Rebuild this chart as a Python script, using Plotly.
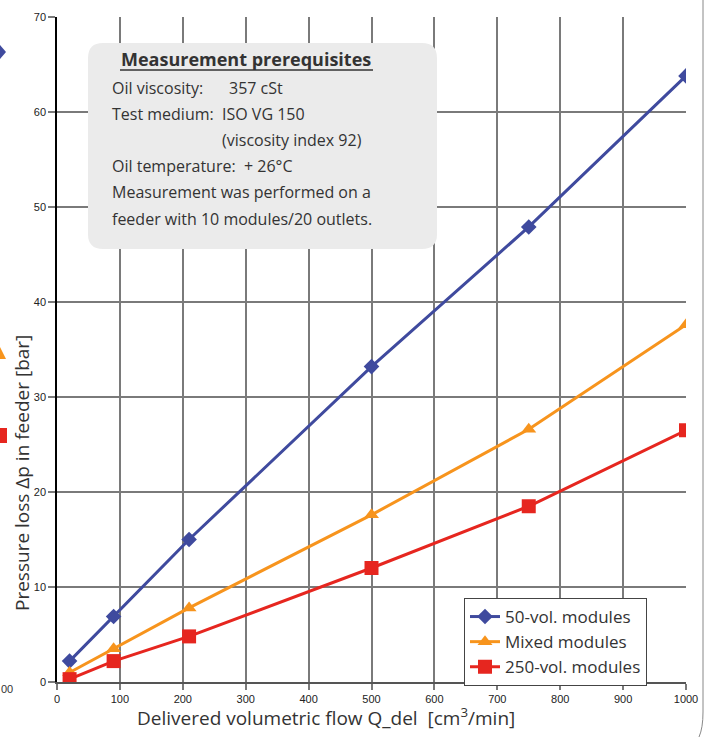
import plotly.graph_objects as go

# ---- data ----
flow = [20, 90, 210, 500, 750, 1000]
dp_50vol = [2.2, 6.9, 15.0, 33.2, 47.9, 63.8]
dp_mixed = [1.0, 3.5, 7.8, 17.6, 26.6, 37.6]
dp_250vol = [0.3, 2.2, 4.8, 12.0, 18.5, 26.5]
series_names = ["50-vol. modules", "Mixed modules", "250-vol. modules"]
x_ticks = [0, 100, 200, 300, 400, 500, 600, 700, 800, 900, 1000]
y_ticks = [0, 10, 20, 30, 40, 50, 60, 70]
box_lines = [
    ("Oil viscosity:", "357 cSt"),
    ("Test medium:", "ISO VG 150"),
    ("", "(viscosity index 92)"),
    ("Oil temperature:  + 26°C", ""),
    ("Measurement was performed on a", ""),
    ("feeder with 10 modules/20 outlets.", ""),
]

W, H = 707, 737
L, R, T, B = 57, 21, 17, 55
PW, PH = W - L - R, H - T - B

def px(xp):
    return (xp - L) / PW

def py(yp):
    return (H - B - yp) / PH

BLUE = "#3f4a9e"
ORANGE = "#f7941d"
RED = "#e6261f"
GRID = "#7a7a7a"
TXT = "#333333"
BOXFONT = "Open Sans"

fig = go.Figure()
fig.add_trace(go.Scatter(x=flow, y=dp_50vol, name=series_names[0], mode="lines+markers",
                         line=dict(color=BLUE, width=3),
                         marker=dict(symbol="diamond", size=12, color=BLUE)))
fig.add_trace(go.Scatter(x=flow, y=dp_mixed, name=series_names[1], mode="lines+markers",
                         line=dict(color=ORANGE, width=3),
                         marker=dict(symbol="triangle-up", size=13, color=ORANGE)))
fig.add_trace(go.Scatter(x=flow, y=dp_250vol, name=series_names[2], mode="lines+markers",
                         line=dict(color=RED, width=3),
                         marker=dict(symbol="square", size=14, color=RED)))

shapes = []
# rounded info box
x0, x1 = px(88), px(437)
y1, y0 = py(43), py(249)
rx, ry = 15 / PW, 15 / PH
path = (f"M {x0+rx},{y1} L {x1-rx},{y1} Q {x1},{y1} {x1},{y1-ry} "
        f"L {x1},{y0+ry} Q {x1},{y0} {x1-rx},{y0} L {x0+rx},{y0} "
        f"Q {x0},{y0} {x0},{y0+ry} L {x0},{y1-ry} Q {x0},{y1} {x0+rx},{y1} Z")
shapes.append(dict(type="path", xref="paper", yref="paper", path=path,
                   fillcolor="#ebebeb", line=dict(width=0), layer="above"))
# underline of box title
shapes.append(dict(type="line", xref="paper", yref="paper", x0=px(120), x1=px(373),
                   y0=py(70), y1=py(70), line=dict(color="#333333", width=1.5), layer="above"))
# right frame with rounded bottom corner
shapes.append(dict(type="path", xref="paper", yref="paper",
                   path=f"M {px(703)},{py(0)} L {px(703)},{py(712)} Q {px(703)},{py(728)} {px(699)},{py(737)}",
                   line=dict(color="#888888", width=1)))
# cropped neighbour markers on the left edge
shapes.append(dict(type="path", xref="paper", yref="paper",
                   path=f"M {px(-6)},{py(52)} L {px(0)},{py(45)} L {px(6)},{py(52)} L {px(0)},{py(59)} Z",
                   fillcolor=BLUE, line=dict(width=0)))
shapes.append(dict(type="path", xref="paper", yref="paper",
                   path=f"M {px(-1)},{py(345)} L {px(6)},{py(359)} L {px(-8)},{py(359)} Z",
                   fillcolor=ORANGE, line=dict(width=0)))
shapes.append(dict(type="rect", xref="paper", yref="paper",
                   x0=px(-1), x1=px(7), y0=py(428), y1=py(443),
                   fillcolor=RED, line=dict(width=0)))

annotations = []
annotations.append(dict(xref="paper", yref="paper", x=px(246), y=py(59),
                        text="<b>Measurement prerequisites</b>", showarrow=False,
                        xanchor="center", yanchor="middle",
                        font=dict(family=BOXFONT, size=18, color="#333333")))
row_y = [88, 114, 140, 166, 192, 219]
for (left, right), yy in zip(box_lines, row_y):
    if left:
        annotations.append(dict(xref="paper", yref="paper", x=px(110), y=py(yy), text=left,
                                showarrow=False, xanchor="left", yanchor="middle",
                                font=dict(family=BOXFONT, size=16, color=TXT)))
    if right:
        xr = 227 if left == "Oil viscosity:" else 220
        annotations.append(dict(xref="paper", yref="paper", x=px(xr), y=py(yy), text=right,
                                showarrow=False, xanchor="left", yanchor="middle",
                                font=dict(family=BOXFONT, size=16, color=TXT)))
# axis titles
annotations.append(dict(xref="paper", yref="paper", x=px(326), y=py(717),
                        text="Delivered volumetric flow Q_del  [cm<sup>3</sup>/min]",
                        showarrow=False, xanchor="center", yanchor="middle",
                        font=dict(family=BOXFONT, size=19, color=TXT)))
annotations.append(dict(xref="paper", yref="paper", x=px(22), y=py(473),
                        text="Pressure loss Δp in feeder [bar]", textangle=-90,
                        showarrow=False, xanchor="center", yanchor="middle",
                        font=dict(family=BOXFONT, size=19, color=TXT)))
annotations.append(dict(xref="paper", yref="paper", x=px(-1), y=py(689), text="00",
                        showarrow=False, xanchor="left", yanchor="middle",
                        font=dict(family="Liberation Sans", size=11, color=TXT)))

fig.update_layout(
    width=W, height=H,
    margin=dict(l=L, r=R, t=T, b=B, autoexpand=False),
    paper_bgcolor="white", plot_bgcolor="white",
    shapes=shapes, annotations=annotations,
    showlegend=True,
    legend=dict(x=px(464), y=py(598), xanchor="left", yanchor="top",
                bgcolor="white", bordercolor="#444444", borderwidth=1,
                font=dict(family=BOXFONT, size=17, color=TXT),
                tracegroupgap=0, itemwidth=30),
)
fig.update_xaxes(range=[0, 1000], tickvals=x_ticks, ticks="outside", ticklen=6,
                 tickcolor=GRID, tickwidth=1.5,
                 showgrid=True, gridcolor=GRID, gridwidth=1.5,
                 showline=True, linecolor="#555555", linewidth=2, mirror=False,
                 zeroline=False, tickfont=dict(family="Liberation Sans", size=11, color="#222222"))
fig.update_yaxes(range=[0, 70], tickvals=y_ticks, ticks="outside", ticklen=7,
                 tickcolor=GRID, tickwidth=1.5,
                 showgrid=True, gridcolor=GRID, gridwidth=1.5,
                 showline=True, linecolor="#000000", linewidth=1.5,
                 zeroline=False, tickfont=dict(family="Liberation Sans", size=11, color="#222222"))

fig.write_html("out.html", config={"displayModeBar": False},
               post_script="document.body.style.margin='0';document.body.style.overflow='hidden';")
